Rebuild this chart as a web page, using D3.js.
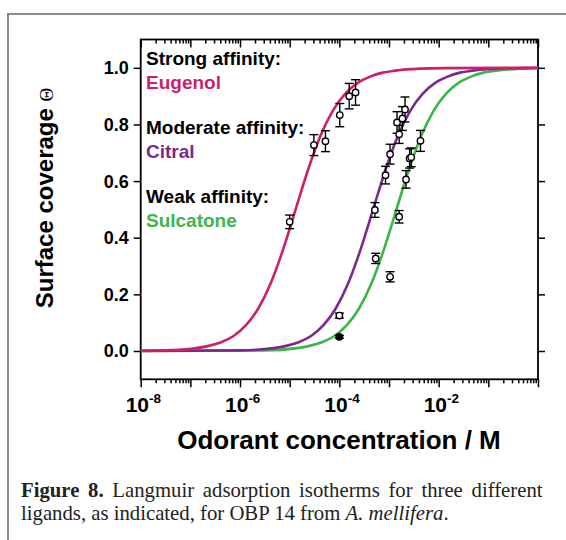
<!DOCTYPE html>
<html><head><meta charset="utf-8">
<script src="https://cdn.jsdelivr.net/npm/d3@7"></script>
<style>body{margin:0;background:#fff;} svg{display:block;}</style>
</head><body>
<script>
// ---------- data ----------
const yTicks = [0, 0.2, 0.4, 0.6, 0.8, 1.0];
const xLabelExponents = [-8, -6, -4, -2];

// fitted isotherms: log10(concentration) and coverage
const eugenolFitLog   = [-8, -7.38, -6.88, -6.63, -6.38, -6.13, -5.88, -5.63, -5.38, -5.13, -4.88, -4.63, -4.38, -4.13, -3.88, -3.63, -3.38, -3.13, -2.88, -2.38, -1.88, 0];
const eugenolFitTheta = [0.001, 0.003, 0.010, 0.018, 0.031, 0.053, 0.091, 0.151, 0.240, 0.360, 0.500, 0.640, 0.760, 0.849, 0.909, 0.947, 0.969, 0.983, 0.990, 0.997, 0.999, 1.0];
const citralFitLog    = [-8, -6, -5.32, -5.07, -4.82, -4.57, -4.32, -4.07, -3.82, -3.57, -3.32, -3.07, -2.82, -2.57, -2.32, -2.07, -1.82, -1.57, -1.32, -0.82, -0.32, 0];
const citralFitTheta  = [0.000, 0.002, 0.010, 0.018, 0.031, 0.053, 0.091, 0.151, 0.240, 0.360, 0.500, 0.640, 0.760, 0.849, 0.909, 0.947, 0.969, 0.983, 0.990, 0.997, 0.999, 1.0];
const sulcFitLog      = [-8, -5.5, -4.85, -4.6, -4.35, -4.1, -3.85, -3.6, -3.35, -3.1, -2.85, -2.6, -2.35, -2.1, -1.85, -1.6, -1.35, -1.1, -0.85, -0.35, 0];
const sulcFitTheta    = [0.000, 0.002, 0.010, 0.018, 0.031, 0.053, 0.091, 0.151, 0.240, 0.360, 0.500, 0.640, 0.760, 0.849, 0.909, 0.947, 0.969, 0.983, 0.990, 0.997, 0.999];

// measured points: concentration (M), coverage, error
const eugenolConc  = [1.0e-5, 3.07e-5, 5.25e-5, 1.02e-4, 1.58e-4, 2.12e-4];
const eugenolTheta = [0.456, 0.727, 0.741, 0.833, 0.900, 0.913];
const eugenolErr   = [0.024, 0.037, 0.037, 0.041, 0.045, 0.045];
const citralConc   = [1.0e-4, 5.4e-4, 5.2e-4, 8.5e-4, 1.05e-3, 1.45e-3, 1.86e-3, 2.1e-3];
const citralTheta  = [0.125, 0.327, 0.498, 0.621, 0.695, 0.807, 0.821, 0.853];
const citralErr    = [0.009, 0.018, 0.026, 0.031, 0.035, 0.038, 0.042, 0.044];
const sulcConc     = [1.0e-4, 1.05e-3, 1.6e-3, 1.6e-3, 2.2e-3, 2.6e-3, 2.8e-3, 4.3e-3];
const sulcTheta    = [0.050, 0.262, 0.474, 0.765, 0.606, 0.680, 0.684, 0.742];
const sulcErr      = [0.005, 0.018, 0.022, 0.032, 0.031, 0.034, 0.033, 0.037];
const sulcFilled   = [true, false, false, false, false, false, false, false];

const colEug = "#cc1f6c", colCit = "#7b2a8c", colSul = "#3cb54a";

// ---------- drawing ----------
const W = 566, H = 540;
const svg = d3.select("body").append("svg").attr("width", W).attr("height", H);
svg.append("rect").attr("width", W).attr("height", H).attr("fill", "#fff");

// figure frame
svg.append("path").attr("d", `M8,${H} L8,14 L${W},14`).attr("fill", "none")
  .attr("stroke", "#8a8a8a").attr("stroke-width", 2);

const x = d3.scaleLog().domain([1e-8, 1]).range([140.7, 538]);
const y = d3.scaleLinear().domain([-0.1, 1.1]).range([379.3, 39.5]);
const [x0, x1] = x.range(), [yb, yt] = y.range();

const sans = "Liberation Sans, Arial, sans-serif";

// axes
const majorX = d3.range(-8, 1).map(e => Math.pow(10, e));
const minorX = [];
d3.range(-8, 0).forEach(e => { for (let m = 2; m <= 9; m++) minorX.push(m * Math.pow(10, e)); });

function xAxisAt(yPos) {
  const ax = d3.axisBottom(x).tickValues(majorX).tickSize(8).tickFormat("");
  const g = svg.append("g").attr("transform", `translate(0,${yPos})`).call(ax);
  const axm = d3.axisBottom(x).tickValues(minorX).tickSize(4).tickFormat("");
  const gm = svg.append("g").attr("transform", `translate(0,${yPos})`).call(axm);
  [g, gm].forEach(gg => { gg.select(".domain").remove(); gg.selectAll("line").attr("stroke", "#000").attr("stroke-width", 1.5); });
  return g;
}
xAxisAt(yb);
xAxisAt(yt);

const gyl = svg.append("g").attr("transform", `translate(${x0},0)`)
  .call(d3.axisLeft(y).tickValues(yTicks).tickSize(7).tickFormat(d3.format(".1f")));
gyl.select(".domain").remove();
gyl.selectAll("line").attr("stroke", "#000").attr("stroke-width", 1.5);
gyl.selectAll("text").attr("font-family", sans).attr("font-weight", "bold")
  .attr("font-size", 18).attr("fill", "#000").attr("x", -12).attr("dy", "0.33em");

const gyr = svg.append("g").attr("transform", `translate(${x1},0)`)
  .call(d3.axisRight(y).tickValues(yTicks).tickSize(7).tickFormat(""));
gyr.select(".domain").remove();
gyr.selectAll("line").attr("stroke", "#000").attr("stroke-width", 1.5);

// plot box
svg.append("rect").attr("x", x0).attr("y", yt).attr("width", x1 - x0).attr("height", yb - yt)
  .attr("fill", "none").attr("stroke", "#000").attr("stroke-width", 1.8);

// x tick labels 10^n
xLabelExponents.forEach(e => {
  const t = svg.append("text").attr("x", x(Math.pow(10, e)) - 15).attr("y", 412)
    .attr("font-family", sans).attr("font-weight", "bold").attr("font-size", 21).attr("fill", "#000");
  t.append("tspan").text("10");
  t.append("tspan").attr("dy", -9).attr("font-size", 13.5).text("-" + Math.abs(e));
});

// axis titles
svg.append("text").attr("x", 339).attr("y", 449).attr("text-anchor", "middle")
  .attr("font-family", sans).attr("font-weight", "bold").attr("font-size", 26).attr("fill", "#000")
  .text("Odorant concentration / M");
const yt1 = svg.append("text").attr("transform", "translate(53,198) rotate(-90)").attr("text-anchor", "middle")
  .attr("font-family", sans).attr("font-weight", "bold").attr("font-size", 24).attr("fill", "#000");
yt1.append("tspan").text("Surface coverage ");
yt1.append("tspan").attr("font-family", "Liberation Serif, serif").attr("font-weight", "normal")
  .attr("font-size", 19).text("Θ");

// curves
const line = d3.line().x(d => x(Math.pow(10, d[0]))).y(d => y(d[1])).curve(d3.curveMonotoneX);
[[sulcFitLog, sulcFitTheta, colSul], [citralFitLog, citralFitTheta, colCit], [eugenolFitLog, eugenolFitTheta, colEug]]
  .forEach(([lx, ly, c]) => {
    svg.append("path").datum(lx.map((v, i) => [v, ly[i]])).attr("d", line)
      .attr("fill", "none").attr("stroke", c).attr("stroke-width", 2.6);
  });

// points with error bars
const pts = [];
[[eugenolConc, eugenolTheta, eugenolErr, null], [citralConc, citralTheta, citralErr, null], [sulcConc, sulcTheta, sulcErr, sulcFilled]]
  .forEach(([cx, cy, ce, cf]) => cx.forEach((v, i) => pts.push({ c: v, t: cy[i], e: ce[i], f: cf ? cf[i] : false })));
const gp = svg.append("g").attr("stroke", "#000").attr("stroke-width", 1.4);
pts.forEach(p => {
  const px = x(p.c), py1 = y(p.t + p.e), py2 = y(p.t - p.e);
  gp.append("line").attr("x1", px).attr("x2", px).attr("y1", py1).attr("y2", py2);
  gp.append("line").attr("x1", px - 4.5).attr("x2", px + 4.5).attr("y1", py1).attr("y2", py1);
  gp.append("line").attr("x1", px - 4.5).attr("x2", px + 4.5).attr("y1", py2).attr("y2", py2);
});
pts.forEach(p => {
  gp.append("circle").attr("cx", x(p.c)).attr("cy", y(p.t)).attr("r", 3.2).attr("fill", p.f ? "#000" : "#fff");
});

// in-plot legend text
const labels = [
  ["Strong affinity:", "#000", 65], ["Eugenol", colEug, 88.5],
  ["Moderate affinity:", "#000", 134], ["Citral", colCit, 158],
  ["Weak affinity:", "#000", 203], ["Sulcatone", colSul, 227]
];
labels.forEach(([s, c, yy]) => {
  svg.append("text").attr("x", 146).attr("y", yy).attr("font-family", sans).attr("font-weight", "bold")
    .attr("font-size", 19).attr("fill", c).text(s);
});

// caption (first line justified to the full width)
const serif = "Liberation Serif, 'Times New Roman', serif";
const capG = svg.append("g");
const cap1 = capG.append("text").attr("x", 0).attr("y", 0).attr("font-family", serif).attr("font-size", 20).attr("fill", "#222");
cap1.append("tspan").attr("font-weight", "bold").text("Figure 8.");
cap1.append("tspan").text(" Langmuir adsorption isotherms for three different");
const cap2 = capG.append("text").attr("x", 0).attr("y", 23).attr("font-family", serif).attr("font-size", 20).attr("fill", "#222");
cap2.append("tspan").text("ligands, as indicated, for OBP 14 from ");
cap2.append("tspan").attr("font-style", "italic").text("A. mellifera");
cap2.append("tspan").text(".");
const w2 = cap2.node().getComputedTextLength();
const sx = 428 / w2;
const w1 = cap1.node().getComputedTextLength();
const extra = (522 / sx - w1) / 7;
if (extra > 0) cap1.style("word-spacing", extra + "px");
capG.attr("transform", `translate(21,497) scale(${sx},1)`);
</script>
</body></html>
